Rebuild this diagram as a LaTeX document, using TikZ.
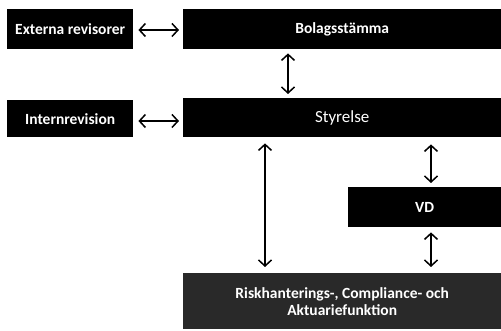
\documentclass[tikz,border=0pt]{standalone}
\usepackage{fontspec}
\setmainfont{Carlito}
\usetikzlibrary{arrows.meta}
\begin{document}
\begin{tikzpicture}[x=1pt,y=-1pt,
  blk/.style={fill=black,draw=none,text=white,font=\bfseries\fontsize{15.5}{16}\selectfont,inner sep=0pt,anchor=north west},
  tip/.style={},
  dbl/.style={draw=black,line width=1.5pt,{Straight Barb[length=6pt,width=13pt,line width=1.5pt]}-{Straight Barb[length=6pt,width=13pt,line width=1.5pt]}}]
\useasboundingbox (0,0) rectangle (501,331);
\node[blk,minimum width=126pt,minimum height=40pt] (ext) at (7,9) {Externa revisorer};
\node[blk,minimum width=318pt,minimum height=40pt] (bol) at (183,9) {Bolagsstämma};
\node[blk,minimum width=126pt,minimum height=37pt] (int) at (7,100) {Internrevision};
\node[blk,minimum width=318pt,minimum height=39pt,font=\fontsize{17}{18}\selectfont] (sty) at (183,98) {Styrelse};
\node[blk,minimum width=153pt,minimum height=40pt] (vd) at (348,187) {VD};
\node[blk,fill=black!84,minimum width=318pt,minimum height=56pt,align=center,font=\bfseries\fontsize{15.5}{17}\selectfont] (risk) at (183,273) {Riskhanterings-, Compliance- och\\Aktuariefunktion};
\coordinate (xa) at (288,0);
\coordinate (xb) at (265,0);
\coordinate (xc) at (431,0);
\draw[dbl,shorten <=5pt,shorten >=4pt] (ext.east |- 0,30) -- (bol.west |- 0,30);
\draw[dbl,shorten <=5pt,shorten >=4pt] (int.east |- 0,121) -- (sty.west |- 0,121);
\draw[dbl,shorten <=4pt,shorten >=4pt] (bol.south -| xa) -- (sty.north -| xa);
\draw[dbl,shorten <=6pt,shorten >=6pt] (sty.south -| xb) -- (risk.north -| xb);
\draw[dbl,shorten <=7pt,shorten >=4pt] (sty.south -| xc) -- (vd.north -| xc);
\draw[dbl,shorten <=5pt,shorten >=6pt] (vd.south -| xc) -- (risk.north -| xc);
\end{tikzpicture}
\end{document}
